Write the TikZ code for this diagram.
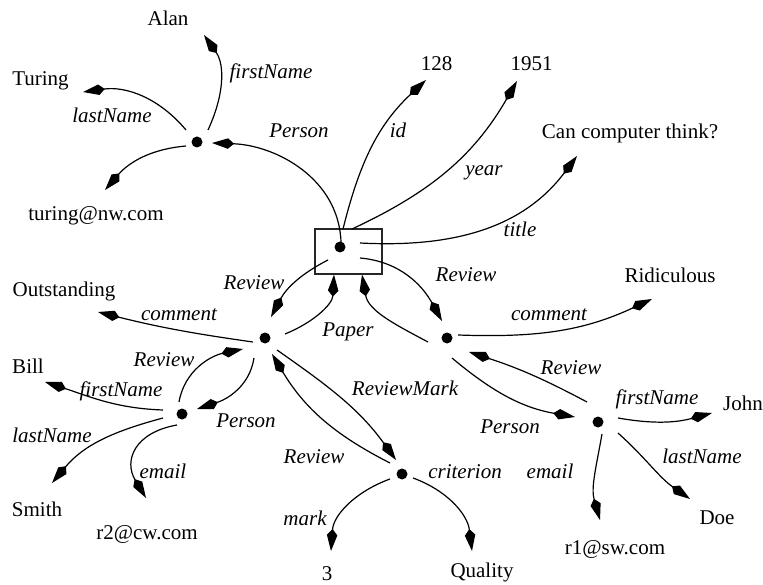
\documentclass[tikz,border=0pt]{standalone}
\usepackage{fontspec}
\setmainfont{Liberation Serif}
\usetikzlibrary{arrows.meta}
\begin{document}
\begin{tikzpicture}[x=1pt,y=1pt,
  every node/.style={font=\fontsize{21}{25}\selectfont, inner sep=0pt},
  blob/.style={circle,fill=black,minimum size=11pt,inner sep=0pt},
  pbox/.style={draw=black!85,line width=1.2pt,minimum width=67pt,minimum height=45pt,inner sep=0pt},
  txt/.style={anchor=base},
  lab/.style={anchor=base,font=\fontsize{21}{25}\selectfont\itshape},
  conn/.style={line width=1.2pt,-{Kite[length=22pt,width=10.5pt,inset=6pt]}}]

\useasboundingbox (0,0) rectangle (763,-585);

% structure nodes
\node[pbox] (paper) at (348.5,-251.5) {};
\node[blob] (pd) at (340,-247) {};
\node[blob] (p1) at (197,-142) {};
\node[blob] (r1) at (265,-338) {};
\node[blob] (r2) at (447,-338) {};
\node[blob] (p2) at (182,-414) {};
\node[blob] (rm) at (402,-474) {};
\node[blob] (p3) at (598,-422) {};

% value nodes
\node[txt] (alan) at (168,-26) {Alan};
\node[txt] (turing) at (40.5,-86) {Turing};
\node[txt] (tmail) at (96,-221) {turing@nw.com};
\node[txt] (n128) at (436.5,-71) {128};
\node[txt] (n1951) at (531.5,-71) {1951};
\node[txt] (title) at (630,-139) {Can computer think?};
\node[txt] (ridic) at (670,-283) {Ridiculous};
\node[txt] (outst) at (64,-297) {Outstanding};
\node[txt] (bill) at (28,-373) {Bill};
\node[txt] (smith) at (37,-516) {Smith};
\node[txt] (r2mail) at (147,-539) {r2@cw.com};
\node[txt] (three) at (327,-580) {3};
\node[txt] (quality) at (482,-577) {Quality};
\node[txt] (r1mail) at (615,-554) {r1@sw.com};
\node[txt] (doe) at (717,-524) {Doe};
\node[txt] (john) at (743,-410) {John};

% arrow tip coordinates
\coordinate (tAlan) at (204,-35);
\coordinate (tTuring) at (83,-92);
\coordinate (tTmail) at (105,-190);
\coordinate (t128) at (426,-80);
\coordinate (t1951) at (517,-81);
\coordinate (tTitle) at (577,-156);
\coordinate (tOut) at (98,-312);
\coordinate (tRid) at (652,-299);
\coordinate (tBill) at (45,-382);
\coordinate (tSmith) at (52,-483);
\coordinate (tR2) at (146,-498);
\coordinate (tThree) at (331,-551);
\coordinate (tQual) at (472,-551);
\coordinate (tJohn) at (712,-413);
\coordinate (tR1) at (600,-520);
\coordinate (tDoe) at (690,-499);

% connectors
\draw[conn] ([shift={(11,12)}]p1.center) to[out=65,in=-55] (tAlan);
\draw[conn] ([shift={(-11,12)}]p1.center) to[out=130,in=8] (tTuring);
\draw[conn] ([shift={(-11,-4)}]p1.center) to[out=185,in=49] (tTmail);
\draw[conn] ([shift={(1,5)}]pd.center) to[out=92,in=-2] ([shift={(15,-1)}]p1.center);
\draw[conn] ([shift={(3,18)}]pd.center) to[out=76,in=223] (t128);
\draw[conn] ([shift={(12,18)}]pd.center) to[out=25,in=240] (t1951);
\draw[conn] ([shift={(20,4)}]pd.center) to[out=-3,in=233] (tTitle);
\draw[conn] ([shift={(20,-11)}]pd.center) to[out=-5,in=119] ([shift={(-5,17)}]r2.center);
\draw[conn] ([shift={(-12,-13)}]pd.center) to[out=207,in=62] ([shift={(6,21)}]r1.center);
\draw[conn] ([shift={(20,4)}]r1.center) to[out=22,in=-93] ([xshift=-14.5pt]paper.south);
\draw[conn] ([shift={(-19,-4)}]r2.center) to[out=152,in=-80] ([xshift=13.5pt]paper.south);
\draw[conn] ([shift={(-12,-4)}]r1.center) to[out=172,in=-14] (tOut);
\draw[conn] ([shift={(11,3)}]r2.center) to[out=-2,in=205] (tRid);
\draw[conn] ([shift={(-3,12)}]p2.center) to[out=80,in=192] ([shift={(-22,-11)}]r1.center);
\draw[conn] ([shift={(-11,-20)}]r1.center) to[out=261,in=18] ([shift={(15,5)}]p2.center);
\draw[conn] ([shift={(-19,4)}]p2.center) to[out=178,in=-18] (tBill);
\draw[conn] ([shift={(-19,-4)}]p2.center) to[out=195,in=50] (tSmith);
\draw[conn] ([shift={(-5,-11)}]p2.center) to[out=190,in=121,looseness=1.4] (tR2);
\draw[conn] ([shift={(12,-12)}]r1.center) to[out=-35,in=126] ([shift={(-6,14)}]rm.center);
\draw[conn] ([shift={(-12,11)}]rm.center) to[out=153,in=-59] ([shift={(7,-16)}]r1.center);
\draw[conn] ([shift={(-12,-5)}]rm.center) to[out=200,in=86] (tThree);
\draw[conn] ([shift={(11,-4)}]rm.center) to[out=-20,in=97] (tQual);
\draw[conn] ([shift={(5,-20)}]r2.center) to[out=-40,in=170] ([shift={(-23,5)}]p3.center);
\draw[conn] ([shift={(-11,20)}]p3.center) to[out=152,in=-18] ([shift={(22,-14)}]r2.center);
\draw[conn] ([shift={(20,4)}]p3.center) to[out=-10,in=195] (tJohn);
\draw[conn] ([shift={(4,-12)}]p3.center) to[out=260,in=106] (tR1);
\draw[conn] ([shift={(20,-11)}]p3.center) to[out=-42,in=145] (tDoe);

% edge labels
\node[lab] (lA) at (271,-79) {firstName};
\node[lab] (lT) at (112,-123) {lastName};
\node[lab] (lP1) at (299,-138) {Person};
\node[lab] (lid) at (398,-138) {id};
\node[lab] (lyear) at (484,-176) {year};
\node[lab] (ltitle) at (520,-237) {title};
\node[lab] (lRv2) at (466,-282) {Review};
\node[lab] (lRv1) at (254,-290) {Review};
\node[lab] (lc1) at (179,-320) {comment};
\node[lab] (lpaper) at (348,-336) {Paper};
\node[lab] (lc2) at (549,-320) {comment};
\node[lab] (lRv3) at (571,-374) {Review};
\node[lab] (lfJ) at (657,-404) {firstName};
\node[lab] (lP3) at (510,-433) {Person};
\node[lab] (lRM) at (405,-395) {ReviewMark};
\node[lab] (lRv4) at (164,-366) {Review};
\node[lab] (lfB) at (121,-396) {firstName};
\node[lab] (lP2) at (246,-427) {Person};
\node[lab] (llB) at (52,-442) {lastName};
\node[lab] (leB) at (163,-478) {email};
\node[lab] (lRv5) at (314,-463) {Review};
\node[lab] (lmark) at (305,-525) {mark};
\node[lab] (lcrit) at (465,-478) {criterion};
\node[lab] (leJ) at (550,-478) {email};
\node[lab] (llJ) at (702,-463) {lastName};
\end{tikzpicture}
\end{document}
